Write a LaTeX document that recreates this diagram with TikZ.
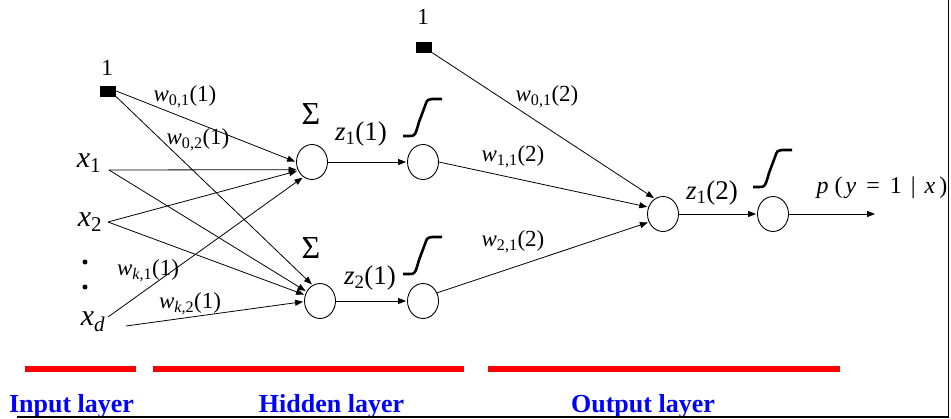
\documentclass[tikz,border=0pt]{standalone}
\usepackage{fontspec}
\setmainfont{Liberation Serif}
\usetikzlibrary{arrows.meta,shapes.geometric}
\newcommand\fs[1]{\fontsize{#1}{#1}\selectfont}
\newcommand\wlab[3]{\textit{#1}\textsubscript{#2}(#3)}
\newcommand\sigmoid[1]{\draw[sig,shift={#1}] (0,0) -- (6,0) .. controls (12,0) .. (16,-14) -- (22,-30) .. controls (24,-36) .. (29,-37) -- (39,-37);}
\begin{document}
\begin{tikzpicture}[x=1pt,y=-1pt,
  neuron/.style={draw,ellipse,minimum width=31pt,minimum height=35pt,inner sep=0pt,line width=0.9pt},
  biasbox/.style={fill=black,minimum width=16pt,minimum height=11pt,inner sep=0pt},
  lbl/.style={inner sep=0pt,font=\fs{23}},
  conn/.style={line width=0.8pt},
  arr/.style={conn,-{Triangle[length=8pt,width=6pt]},shorten >=1pt},
  sig/.style={line width=2.6pt},
  layer/.style={font=\fs{26}\bfseries,text=blue,inner sep=0pt,anchor=base},
  bar/.style={red,line width=6pt}]
\useasboundingbox (0,0) rectangle (951,418);

% input layer
\node[biasbox] (b1) at (108,91) {};
\node[lbl] (one1) at (107,68) {1};
\node[lbl,font=\fs{30}] (x1) at (89,163) {\textit{x}\textsubscript{1}};
\node[lbl,font=\fs{30}] (x2) at (90,222) {\textit{x}\textsubscript{2}};
\node[lbl,font=\fs{30}] (xd) at (93,322) {\textit{x}\textsubscript{\textit{d}}};
\node[circle,fill,inner sep=0pt,minimum size=5pt] (dot1) at (85,262) {};
\node[circle,fill,inner sep=0pt,minimum size=5pt] (dot2) at (85,287) {};
\coordinate (x1o) at (109,170);
\coordinate (x2o) at (108,222);
\coordinate (xdo) at (108,317);
\coordinate (xdo2) at (126,326);

% hidden layer
\node[neuron] (H1) at (312,162) {};
\node[neuron] (H2) at (320,301) {};
\node[neuron] (A1) at (423,162) {};
\node[neuron] (A2) at (423,301) {};
\node[font=\fs{32}] (s1) at (311,114) {Σ};
\node[font=\fs{32}] (s2) at (311,248) {Σ};
\sigmoid{(403,136)}
\sigmoid{(403,274)}

% output layer
\node[biasbox] (b2) at (424,47) {};
\node[lbl] (one2) at (423,17) {1};
\node[neuron] (O) at (663,214) {};
\node[neuron] (F) at (773,214) {};
\sigmoid{(753,187)}
\coordinate (out) at (876,214);

% connectors
\draw[arr] (b1.east) -- (H1.180);
\draw[arr] (b1.south east) -- (H2.115);
\draw[arr] (x1o) -- (H1.208);
\draw[arr] (x1o) -- (H2.145);
\draw[arr] (x2o) -- (H1.212);
\draw[arr] (x2o) -- (H2.158);
\draw[arr] (xdo) -- (H1.240);
\draw[arr] (xdo2) -- (H2.182);
\draw[arr] (H1.east) -- (A1.west);
\draw[arr] (H2.east) -- (A2.west);
\draw[arr] (b2.south east) -- (O.118);
\draw[arr] (A1.east) -- (O.155);
\draw[arr] (A2.30) -- (O.210);
\draw[arr] (O.east) -- (F.west);
\draw[arr] (F.east) -- (out);

% weight labels
\node[lbl] (w01) at (185,97) {\wlab{w}{0,1}{1}};
\node[lbl] (w02) at (198,140) {\wlab{w}{0,2}{1}};
\node[lbl] (wk1) at (148,271) {\wlab{w}{\textit{k},1}{1}};
\node[lbl] (wk2) at (190,304) {\wlab{w}{\textit{k},2}{1}};
\node[lbl,font=\fs{27}] (z11) at (361,134) {\wlab{z}{1}{1}};
\node[lbl,font=\fs{27}] (z21) at (370,278) {\wlab{z}{2}{1}};
\node[lbl] (w012) at (547,97) {\wlab{w}{0,1}{2}};
\node[lbl] (w112) at (513,157) {\wlab{w}{1,1}{2}};
\node[lbl] (w212) at (513,242) {\wlab{w}{2,1}{2}};
\node[lbl,font=\fs{27}] (z12) at (712,193) {\wlab{z}{1}{2}};
\node[lbl,font=\fs{24}] (py) at (882,188) {\textit{p}\hspace{6pt}(\hspace{3pt}\textit{y}\hspace{10pt}=\hspace{10pt}1\hspace{9pt}|\hspace{9pt}\textit{x}\hspace{4pt})};

% layer bars and labels
\draw[bar] (25,369) -- (136,369);
\draw[bar] (153,369) -- (464,369);
\draw[bar] (488,369) -- (840,369);
\node[layer] (il) at (71.5,412) {Input layer};
\node[layer] (hl) at (331.5,412) {Hidden layer};
\node[layer] (ol) at (643,412) {Output layer};

% frame
\draw[line width=1.5pt] (17,416.8) -- (948.5,416.8) -- (948.5,0);
\end{tikzpicture}
\end{document}
